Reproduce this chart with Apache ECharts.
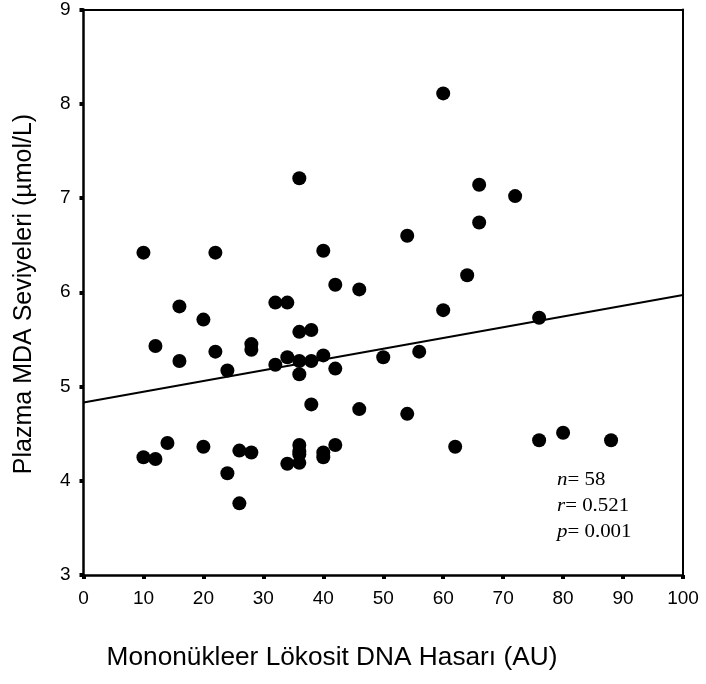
<!DOCTYPE html>
<html>
<head>
<meta charset="utf-8">
<script src="https://cdn.jsdelivr.net/npm/echarts@6/dist/echarts.min.js"></script>
<style>
html,body{margin:0;padding:0;background:#fff;}
#chart{width:706px;height:684px;}
</style>
</head>
<body>
<div id="chart"></div>
<script>
// Mononükleer Lökosit DNA Hasarı (AU)
const damage = [10, 22, 36, 40, 42, 46, 60, 66, 72, 66, 54, 64,
  16, 20, 12, 16, 22, 24, 28, 28, 32, 34, 32, 34, 36, 38, 36, 38, 36, 40, 42, 38, 46, 50,
  10, 12, 14, 20, 24, 26, 28, 26, 34, 36, 36, 36, 36, 40, 40, 42,
  60, 76, 56, 54, 62, 76, 80, 88];
// Plazma MDA Seviyeleri (µmol/L)
const mda = [6.42, 6.42, 7.21, 6.44, 6.08, 6.03, 8.11, 7.14, 7.02, 6.74, 6.60, 6.18,
  5.85, 5.71, 5.43, 5.27, 5.37, 5.17, 5.45, 5.39, 5.89, 5.89, 5.23, 5.31, 5.58, 5.60, 5.27, 5.27, 5.13, 5.33, 5.19, 4.81, 4.76, 5.31,
  4.25, 4.23, 4.40, 4.36, 4.08, 4.32, 4.30, 3.76, 4.18, 4.19, 4.38, 4.31, 4.28, 4.30, 4.25, 4.38,
  5.81, 5.73, 5.37, 4.71, 4.36, 4.43, 4.51, 4.43];
// Regression line end points
const fitX = [0, 100];
const fitY = [4.83, 5.97];
// Axis ranges / ticks
const xRange = [0, 100, 10];
const yRange = [3, 9, 1];
const xTitle = 'Mononükleer Lökosit DNA Hasarı (AU)';
const yTitle = 'Plazma MDA Seviyeleri (µmol/L)';
const statLabels = ['n', 'r', 'p'];
const statValues = ['58', '0.521', '0.001'];

const points = damage.map((d, i) => [d, mda[i]]);
const fitLine = fitX.map((x, i) => [x, fitY[i]]);

const chart = echarts.init(document.getElementById('chart'), null, {renderer: 'canvas'});
const font = 'Liberation Sans, Arial, Helvetica, sans-serif';
const serif = 'Liberation Serif, Times New Roman, serif';

const statTexts = statLabels.map((l, i) => ({
  type: 'text',
  x: 557,
  y: 480 + i * 25.8,
  scaleX: 1.1,
  style: {
    text: '{i|' + l + '}{n|= ' + statValues[i] + '}',
    verticalAlign: 'middle',
    rich: {
      i: {fontFamily: serif, fontStyle: 'italic', fontSize: 19, fill: '#000'},
      n: {fontFamily: serif, fontSize: 19, fill: '#000'}
    }
  }
}));

chart.setOption({
  animation: false,
  backgroundColor: '#fff',
  grid: {left: 83.5, right: 23, top: 8.5, bottom: 109, containLabel: false},
  xAxis: [{
    type: 'value', min: xRange[0], max: xRange[1], interval: xRange[2],
    position: 'bottom',
    axisLine: {show: true, onZero: false, lineStyle: {color: '#000', width: 2.5}},
    axisTick: {show: true, inside: false, length: 4, lineStyle: {color: '#000', width: 4}},
    axisLabel: {color: '#000', fontSize: 19, fontFamily: font, margin: 14},
    splitLine: {show: false}
  }, {
    type: 'value', min: xRange[0], max: xRange[1], interval: xRange[2],
    position: 'top',
    axisLine: {show: true, onZero: false, lineStyle: {color: '#000', width: 2}},
    axisTick: {show: false}, axisLabel: {show: false}, splitLine: {show: false}
  }],
  yAxis: [{
    type: 'value', min: yRange[0], max: yRange[1], interval: yRange[2],
    position: 'left',
    axisLine: {show: true, onZero: false, lineStyle: {color: '#000', width: 2.5}},
    axisTick: {show: true, inside: false, length: 4, lineStyle: {color: '#000', width: 4}},
    axisLabel: {color: '#000', fontSize: 19, fontFamily: font, margin: 13},
    splitLine: {show: false}
  }, {
    type: 'value', min: yRange[0], max: yRange[1], interval: yRange[2],
    position: 'right',
    axisLine: {show: true, onZero: false, lineStyle: {color: '#000', width: 2}},
    axisTick: {show: false}, axisLabel: {show: false}, splitLine: {show: false}
  }],
  series: [{
    type: 'line',
    data: fitLine,
    showSymbol: false,
    symbol: 'none',
    lineStyle: {color: '#000', width: 2},
    z: 2,
    silent: true
  }, {
    type: 'scatter',
    data: points,
    symbol: 'circle',
    symbolSize: 14,
    itemStyle: {color: '#000', opacity: 1},
    z: 3
  }],
  graphic: [{
    type: 'text',
    x: 332, y: 658,
    scaleX: 1.05,
    style: {text: xTitle, fontFamily: font, fontSize: 25, fill: '#000', align: 'center', verticalAlign: 'middle'}
  }, {
    type: 'text',
    x: 24, y: 294,
    rotation: Math.PI / 2,
    style: {text: yTitle, fontFamily: font, fontSize: 25, fill: '#000', align: 'center', verticalAlign: 'middle'}
  }].concat(statTexts)
});
</script>
</body>
</html>
